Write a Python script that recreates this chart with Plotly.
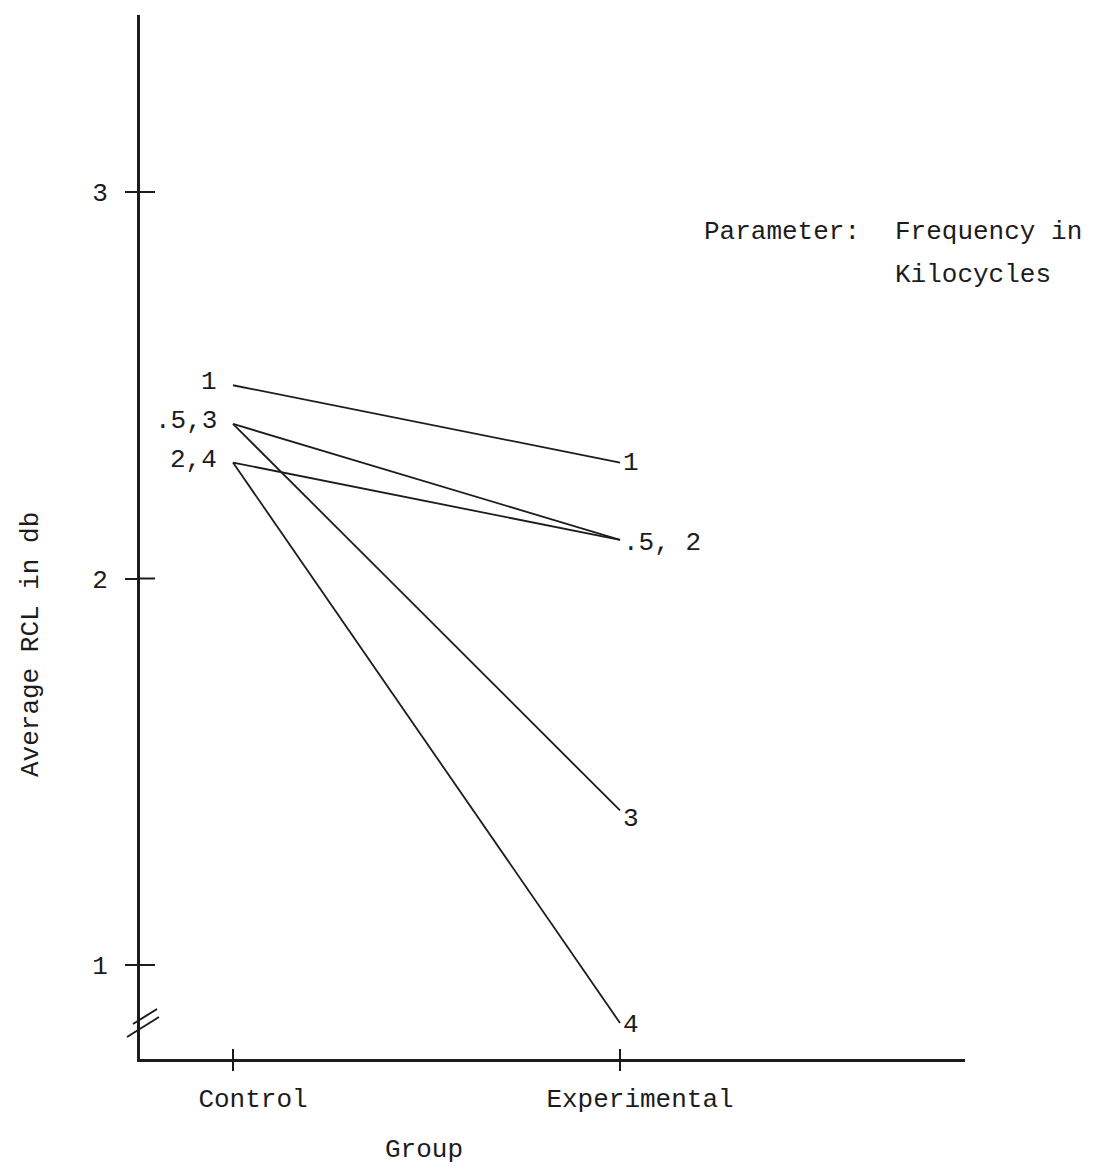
import plotly.graph_objects as go

# ---- data ----
groups = ["Control", "Experimental"]
frequencies = [".5", "1", "2", "3", "4"]          # kilocycles
control_rcl = [2.4, 2.5, 2.3, 2.4, 2.3]
experimental_rcl = [2.1, 2.3, 2.1, 1.4, 0.85]

y_ticks = [1, 2, 3]
y_tick_labels = ["1", "2", "3"]

control_label_text = ["1", ".5,3", "2,4"]
control_label_freq = ["1", ".5", "2"]          # which series sets the label height
exp_label_text = ["1", ".5, 2", "3", "4"]
exp_label_freq = ["1", ".5", "3", "4"]

# ---- layout geometry (page pixels; the html body adds an 8px margin) ----
OFF = 8
W, H = 1095 - OFF, 1171 - OFF
AX_LEFT, AX_RIGHT, AX_TOP, AX_BOTTOM = 140, 965, 15, 1059   # page pixels
L = AX_LEFT - OFF
T = AX_TOP - OFF
R = W - (AX_RIGHT - OFF)
B = H - (AX_BOTTOM - OFF)
plot_w = W - L - R
plot_h = H - T - B

px_per_unit_x = 387.0
px_per_unit_y = 386.5
x_range = [-(233 - AX_LEFT) / px_per_unit_x, (AX_RIGHT - 233) / px_per_unit_x]
y_lo = 1 - (AX_BOTTOM - 965) / px_per_unit_y
y_range = [y_lo, y_lo + plot_h / px_per_unit_y]


def px(xp, yp):
    """page pixel -> paper coordinates"""
    return (xp - AX_LEFT) / plot_w, (AX_BOTTOM - yp) / plot_h


FONT = "Liberation Mono, Courier New, monospace"
FS = 26
INK = "#1c1c1c"

fig = go.Figure()
for i, f in enumerate(frequencies):
    fig.add_trace(go.Scatter(
        x=[0, 1], y=[control_rcl[i], experimental_rcl[i]],
        mode="lines", line=dict(color=INK, width=1.8),
        name=f + " kc", showlegend=False, hoverinfo="skip"))

annotations = []
for txt, f in zip(control_label_text, control_label_freq):
    yv = control_rcl[frequencies.index(f)]
    annotations.append(dict(x=0, y=yv, xref="x", yref="y", text=txt, showarrow=False,
                            xanchor="right", yanchor="middle", xshift=-14, yshift=3,
                            font=dict(family=FONT, size=FS, color=INK)))
exp_yshift = [0, -3, -9, -2]
for (txt, f), ys in zip(zip(exp_label_text, exp_label_freq), exp_yshift):
    yv = experimental_rcl[frequencies.index(f)]
    annotations.append(dict(x=1, y=yv, xref="x", yref="y", text=txt, showarrow=False,
                            xanchor="left", yanchor="middle", xshift=1, yshift=ys,
                            font=dict(family=FONT, size=FS, color=INK)))

# free texts
for txt, (xp, yp), anchor, ang in [
    ("Parameter:", (702, 232), "left", 0),
    ("Frequency in", (893, 232), "left", 0),
    ("Kilocycles", (893, 275), "left", 0),
    ("Group", (424, 1150), "center", 0),
    ("Average RCL in db", (31, 645), "center", -90),
]:
    ax, ay = px(xp, yp)
    annotations.append(dict(x=ax, y=ay, xref="paper", yref="paper", text=txt,
                            showarrow=False, xanchor=anchor, yanchor="middle", textangle=ang,
                            font=dict(family=FONT, size=FS, color=INK)))

shapes = []
# inner halves of the crossing ticks
for yv in y_ticks:
    shapes.append(dict(type="line", xref="paper", yref="y", x0=0, x1=15 / plot_w,
                       y0=yv, y1=yv, line=dict(color=INK, width=2)))
for xv in range(len(groups)):
    shapes.append(dict(type="line", xref="x", yref="paper", x0=xv, x1=xv,
                       y0=0, y1=10 / plot_h, line=dict(color=INK, width=2)))
# axis break marks
for (x0p, y0p, x1p, y1p) in [(133, 1024, 157, 1009), (127, 1037, 159, 1017)]:
    a0, b0 = px(x0p, y0p)
    a1, b1 = px(x1p, y1p)
    shapes.append(dict(type="line", xref="paper", yref="paper", x0=a0, y0=b0, x1=a1, y1=b1,
                       line=dict(color=INK, width=2)))

fig.update_layout(
    width=W, height=H,
    margin=dict(l=L, r=R, t=T, b=B, pad=0),
    paper_bgcolor="white", plot_bgcolor="white",
    showlegend=False,
    annotations=annotations, shapes=shapes,
    xaxis=dict(range=x_range, tickmode="array", tickvals=list(range(len(groups))),
               ticktext=groups, ticks="outside", ticklen=9, tickwidth=2, tickcolor=INK,
               showline=True, linewidth=3, linecolor=INK, showgrid=False, zeroline=False,
               ticklabelstandoff=5, ticklabelshift=20,
               tickfont=dict(family=FONT, size=FS, color=INK)),
    yaxis=dict(range=y_range, tickmode="array", tickvals=y_ticks, ticktext=y_tick_labels,
               ticks="outside", ticklen=12, tickwidth=2, tickcolor=INK,
               showline=True, linewidth=3, linecolor=INK, showgrid=False, zeroline=False,
               ticklabelstandoff=12,
               tickfont=dict(family=FONT, size=FS, color=INK)),
)

fig.write_html("out.html")
